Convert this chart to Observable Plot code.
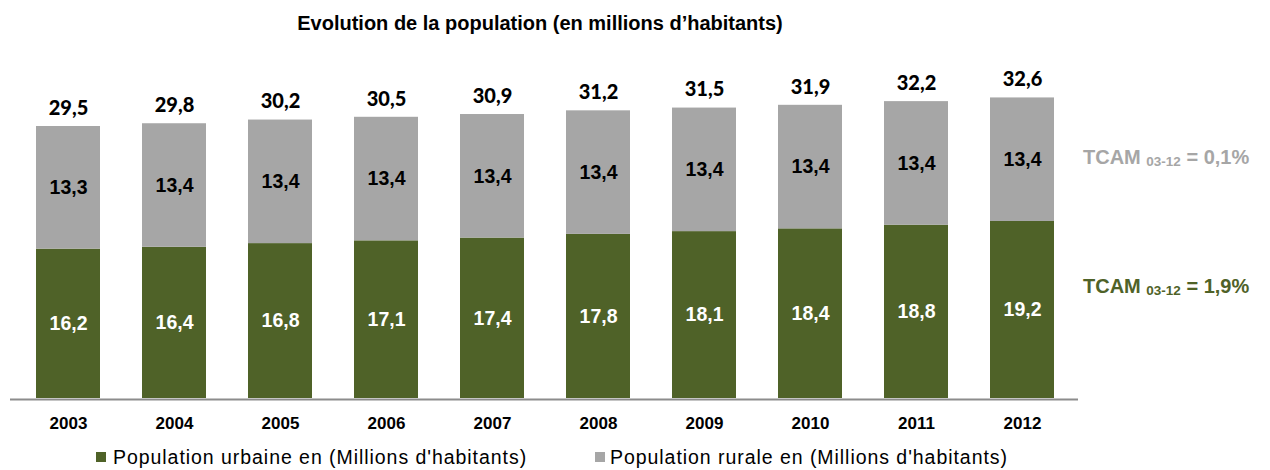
<!DOCTYPE html>
<html><head><meta charset="utf-8">
<script src="https://cdn.jsdelivr.net/npm/d3@7"></script>
<script src="https://cdn.jsdelivr.net/npm/@observablehq/plot@0.6"></script>
<style>
body{margin:0;background:#fff;font-family:"Liberation Sans",Arial,sans-serif;}
#wrap{position:relative;width:1270px;height:470px;overflow:hidden;background:#fff}
#title{position:absolute;left:0;top:13px;width:1080px;text-align:center;font-size:20px;line-height:20px;font-weight:bold;color:#000;white-space:nowrap}
#chart{position:absolute;left:0;top:40px}
.tcam{position:absolute;left:1083px;font-size:20px;line-height:20px;font-weight:bold;white-space:nowrap}
.tcam sub{font-size:13.5px;vertical-align:baseline;position:relative;top:1.5px;line-height:0}
.leg{position:absolute;top:448px;font-size:19.5px;line-height:19.5px;letter-spacing:0.95px;white-space:nowrap;color:#000}
.sw{position:absolute;top:452px;width:10px;height:10px}
</style></head>
<body>
<div id="wrap">
  <div id="title"></div>
  <div id="chart"></div>
</div>
<script>
// ---- data ----
const title = "Evolution de la population (en millions d\u2019habitants)";
const years = ["2003","2004","2005","2006","2007","2008","2009","2010","2011","2012"];
const urbaine = [16.2,16.4,16.8,17.1,17.4,17.8,18.1,18.4,18.8,19.2];
const rurale  = [13.3,13.4,13.4,13.4,13.4,13.4,13.4,13.4,13.4,13.4];
const totals  = [29.5,29.8,30.2,30.5,30.9,31.2,31.5,31.9,32.2,32.6];
const seriesKeys = ["urbaine","rurale"];
const seriesNames = ["Population urbaine en (Millions d'habitants)","Population rurale en (Millions d'habitants)"];
const tcamLabel = "TCAM";
const tcamPeriod = "03-12";
const tcamValues = {rurale:"0,1%", urbaine:"1,9%"};

// ---- styles ----
const colors = {urbaine:"#4F6228", rurale:"#A6A6A6"};
const labelColors = {urbaine:"#ffffff", rurale:"#000000"};
const arial = "Liberation Sans";
const fmt = v => v.toFixed(1).replace(".", ",");

const rows = years.flatMap((y,i)=>[
  {year:y, type:"urbaine", value:urbaine[i]},
  {year:y, type:"rurale", value:rurale[i]}
]);

document.getElementById("title").textContent = title;

const pxPerUnit = 9.22;
const base = 358;
const chart = Plot.plot({
  width:1270, height:400,
  marginLeft:10, marginRight:192, marginTop:0, marginBottom:42,
  x:{type:"band", domain:years, range:[33,1057], paddingInner:0.4, paddingOuter:0},
  y:{domain:[0,35], range:[base, base-35*pxPerUnit], axis:null},
  color:{type:"identity"},
  style:{fontFamily:arial, background:"none", color:"#000", overflow:"visible"},
  marks:[
    Plot.barY(rows, {x:"year", y:"value", z:"type", fill:d=>colors[d.type]}),
    Plot.text(rows, Plot.stackY({x:"year", y:"value", z:"type", text:d=>fmt(d.value),
      fill:d=>labelColors[d.type], fontFamily:arial, fontSize:19.5, fontWeight:"bold"})),
    Plot.text(years, {x:d=>d, y:(d,i)=>urbaine[i]+rurale[i], text:(d,i)=>fmt(totals[i]),
      dy:-18, fontFamily:"Lato", fontSize:20, fontWeight:900, fill:"#000"}),
    Plot.ruleY([0], {stroke:"#8c8c8c", strokeWidth:2, dy:1}),
    Plot.axisX({tickSize:0, tickPadding:18.5, fontFamily:arial, fontSize:17, fontWeight:"bold", label:null, fill:"#000"})
  ]
});
document.getElementById("chart").appendChild(chart);

const wrap = document.getElementById("wrap");
// TCAM annotations
const tcamTops = {rurale:147, urbaine:276};
for (const k of ["rurale","urbaine"]) {
  const d = document.createElement("div");
  d.className = "tcam";
  d.style.top = tcamTops[k] + "px";
  d.style.color = colors[k];
  d.innerHTML = `${tcamLabel} <sub>${tcamPeriod}</sub> = ${tcamValues[k]}`;
  wrap.appendChild(d);
}
// legend
const legPos = [{sw:96, tx:113},{sw:595, tx:610}];
seriesKeys.forEach((k,i)=>{
  const s = document.createElement("div");
  s.className = "sw"; s.style.left = legPos[i].sw + "px"; s.style.background = colors[k];
  wrap.appendChild(s);
  const t = document.createElement("div");
  t.className = "leg"; t.style.left = legPos[i].tx + "px"; t.textContent = seriesNames[i];
  wrap.appendChild(t);
});
</script>
</body></html>
